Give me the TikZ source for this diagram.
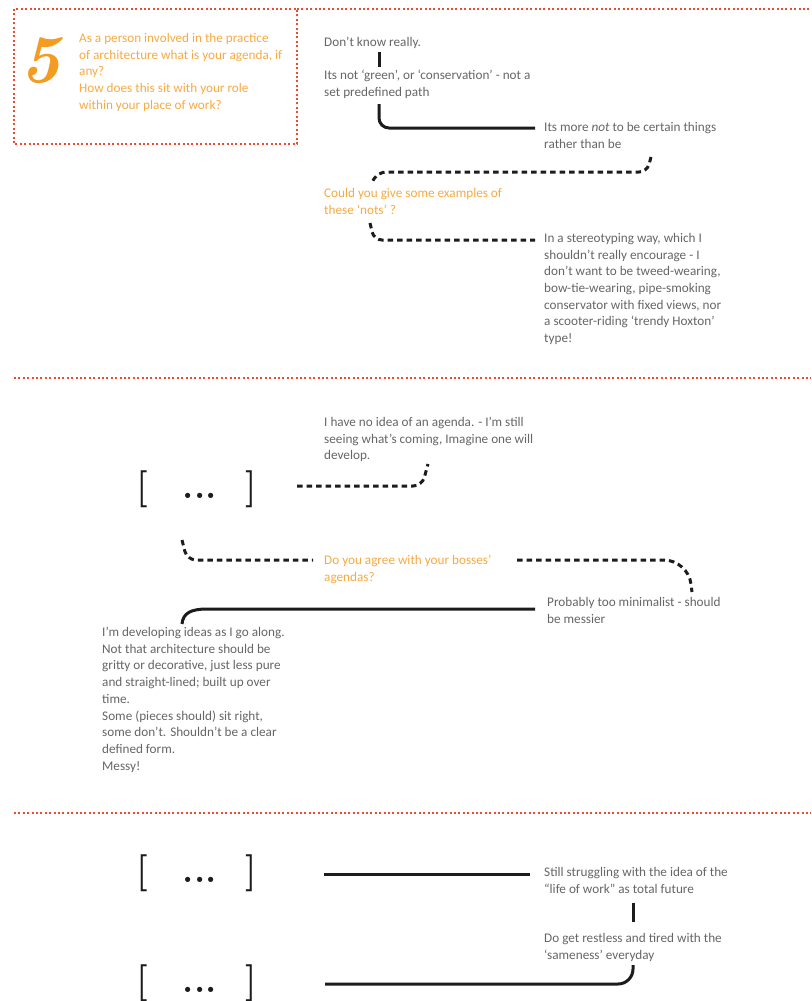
\documentclass[tikz,border=0pt]{standalone}
\usepackage{fontspec}
\newfontfamily\gsfont{Carlito}
\usetikzlibrary{calc}
\definecolor{txtgray}{RGB}{102,102,102}
\definecolor{qorange}{RGB}{247,170,66}
\definecolor{fiveorange}{RGB}{243,156,33}
\definecolor{reddot}{RGB}{238,74,50}
\definecolor{inkblack}{RGB}{28,28,28}
\newcommand\threedots{{\fontsize{36}{36}\selectfont\bfseries ...}}
\tikzset{
  answer/.style={inner sep=0pt, anchor=north west, align=left, text=txtgray,
    font=\gsfont\fontsize{13.2}{16.7}\selectfont,
    execute at begin node={\rule{0pt}{10pt}}},
  question/.style={answer, text=qorange},
  bracketnode/.style={inner sep=0pt, anchor=base west, text=inkblack,
    font=\fontsize{37}{37}\selectfont\bfseries},
  solidlink/.style={draw=inkblack, line width=3pt},
  dashlink/.style={draw=inkblack, line width=3pt, dash pattern=on 5.5pt off 4pt},
  reddotted/.style={draw=reddot, line width=2pt, dash pattern=on 2pt off 2.4pt}
}
\begin{document}
\begin{tikzpicture}[x=1pt,y=-1pt]
\useasboundingbox[fill=white] (0,0) rectangle (811,1001);

% red dotted frame and separators
\draw[reddotted] (14,9) rectangle (297,144);
\draw[reddotted] (297,9) -- (811,9);
\draw[reddotted] (14,378) -- (811,378);
\draw[reddotted] (14,813) -- (811,813);

% question block
\node[inner sep=0pt, anchor=base west, text=fiveorange,
  font=\fontsize{68}{68}\selectfont\bfseries\itshape] (n5) at (20,82) {5};
\node[question] (q) at (79,33) {As a person involved in the practice\\of architecture what is your agenda, if\\any?\\How does this sit with your role\\within your place of work?};

% section 1
\node[answer] (d1) at (324,36) {Don’t know really.};
\node[answer] (d2) at (324,70) {Its not ‘green’, or ‘conservation’ - not a\\set predefined path};
\node[answer] (d3) at (544,122) {Its more \textit{not} to be certain things\\rather than be};
\node[question] (d4) at (324,188) {Could you give some examples of\\these ‘nots’ ?};
\node[answer] (d5) at (544,233) {In a stereotyping way, which I\\shouldn’t really encourage - I\\don’t want to be tweed-wearing,\\bow-tie-wearing, pipe-smoking\\conservator with fixed views, nor\\a scooter-riding ‘trendy Hoxton’\\type!};

\draw[solidlink] ($(d1.north west)+(55,16)$) -- ($(d2.north west)+(55,-3)$);
\draw[solidlink, rounded corners=10pt] ($(d2.north west)+(55,34)$) |- ($(d3.north west)+(-9,6)$);
\draw[dashlink, rounded corners=8pt] ($(d3.north west)+(107,35)$) -- ($(d3.north west)+(103,50)$)
  -- ($(d4.north west)+(54,-16)$) -- ($(d4.north west)+(47,-4)$);
\draw[dashlink, rounded corners=8pt] ($(d4.north west)+(46,35)$) -- ($(d4.north west)+(50,52)$)
  -- ($(d5.north west)+(-9,7)$);

% section 2
\node[answer] (e1) at (324,417) {I have no idea of an agenda. - I’m still\\seeing what’s coming, Imagine one will\\develop.};
\node[bracketnode] (b1) at (136,498) {[\hspace{35pt}\threedots\hspace{29pt}]};
\node[question] (e2) at (324,555) {Do you agree with your bosses’\\agendas?};
\node[answer] (e3) at (547,597) {Probably too minimalist - should\\be messier};
\node[answer] (e4) at (102,627) {I’m developing ideas as I go along.\\Not that architecture should be\\gritty or decorative, just less pure\\and straight-lined; built up over\\time.\\Some (pieces should) sit right,\\some don’t. Shouldn’t be a clear\\defined form.\\Messy!};

\draw[dashlink, rounded corners=9pt] ($(b1.base west)+(161,-12)$) -- ($(e1.north west)+(98,69)$)
  -- ($(e1.north west)+(104,47)$);
\draw[dashlink, rounded corners=9pt] ($(b1.base west)+(46,42)$) -- ($(b1.base west)+(51,62)$)
  -- ($(e2.north west)+(-11,5)$);
\draw[dashlink, rounded corners=24pt] ($(e2.north west)+(193,5)$) -- ($(e2.north west)+(364,5)$)
  -- ($(e3.north west)+(145,-5)$);
\draw[solidlink] ($(e3.north west)+(-12,12)$) -- ($(e3.north west)+(-340,12)$)
  .. controls ($(e3.north west)+(-356,12)$) and ($(e4.north west)+(81,-14)$) .. ($(e4.north west)+(80,-3)$);

% section 3
\node[bracketnode] (b2) at (136,882) {[\hspace{35pt}\threedots\hspace{29pt}]};
\node[answer] (f1) at (544,867) {Still struggling with the idea of the\\“life of work” as total future};
\node[answer] (f2) at (544,933) {Do get restless and tired with the\\‘sameness’ everyday};
\node[bracketnode] (b3) at (136,992) {[\hspace{35pt}\threedots\hspace{29pt}]};

\draw[solidlink] ($(b2.base west)+(188,-8)$) -- ($(f1.north west)+(-14,7)$);
\draw[solidlink] ($(f1.north west)+(89,36)$) -- ($(f2.north west)+(89,-11)$);
\draw[solidlink, rounded corners=15pt] ($(f2.north west)+(89,32)$) |- ($(b3.base west)+(189,-8)$);
\end{tikzpicture}
\end{document}
